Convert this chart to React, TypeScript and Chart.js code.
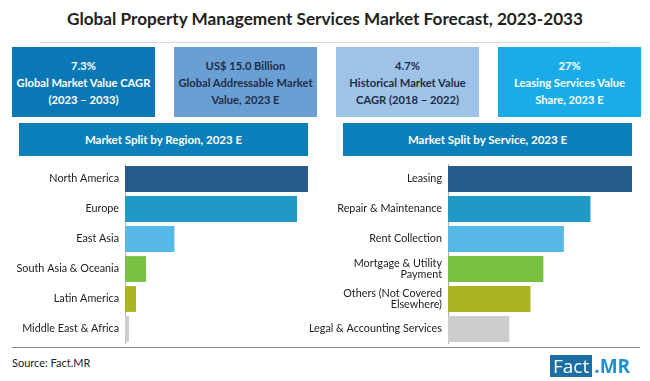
import React, { useEffect, useRef } from "react";
import { Chart, registerables } from "chart.js";

Chart.register(...registerables);

const regionLabels = ["North America", "Europe", "East Asia", "South Asia & Oceania", "Latin America", "Middle East & Africa"];
const regionValues = [100, 94, 27, 11.5, 6, 2.2];
const serviceLabels = ["Leasing", "Repair & Maintenance", "Rent Collection", ["Mortgage & Utility", "Payment"], ["Others (Not Covered", "Elsewhere)"], "Legal & Accounting Services"];
const serviceValues = [27, 20.9, 17, 14, 12.1, 9];
const barColors = ["#275b8c", "#2199c6", "#55b8e6", "#79c143", "#abb322", "#cdcdcd"];

const FONT = "Lato, 'Open Sans', sans-serif";

function BarChart(props: { labels: any[]; values: number[]; max: number; axisWidth: number; style: React.CSSProperties; width: number; height: number }) {
  const ref = useRef<HTMLCanvasElement | null>(null);
  useEffect(() => {
    if (!ref.current) return;
    const chart = new Chart(ref.current, {
      type: "bar",
      data: {
        labels: props.labels,
        datasets: [
          {
            data: props.values,
            backgroundColor: barColors,
            barPercentage: 0.86,
            categoryPercentage: 1,
          },
        ],
      },
      options: {
        indexAxis: "y",
        animation: false,
        responsive: false,
        maintainAspectRatio: false,
        layout: { padding: 0 },
        plugins: { legend: { display: false }, tooltip: { enabled: false } },
        scales: {
          x: { display: false, min: 0, max: props.max },
          y: {
            grid: { display: false, drawTicks: false },
            border: { display: true, color: "#b0b0b0", width: 1 },
            ticks: { color: "#222", font: { family: FONT, size: 10.8, lineHeight: 1.1 }, padding: 6, autoSkip: false },
            afterFit: (s: any) => {
              s.width = props.axisWidth;
              s.paddingTop = 0;
              s.paddingBottom = 0;
            },
          },
        },
      },
    });
    return () => chart.destroy();
  }, []);
  return <canvas ref={ref} width={props.width} height={props.height} style={{ position: "absolute", ...props.style }} />;
}

const boxBase: React.CSSProperties = {
  position: "absolute",
  top: 47,
  width: 143,
  height: 70,
  display: "flex",
  alignItems: "center",
  justifyContent: "center",
  textAlign: "center",
  fontFamily: FONT,
  fontWeight: 700,
  fontSize: 11.2,
  lineHeight: "17px",
};

export default function App() {
  return (
    <div style={{ position: "absolute", left: 0, top: 0, width: 650, height: 381, background: "#fff", overflow: "hidden", fontFamily: FONT }}>
      <div style={{ position: "absolute", left: 0, top: 8, width: 650, textAlign: "center", fontSize: 17.2, fontWeight: 700, color: "#222" }}>
        Global Property Management Services Market Forecast, 2023-2033
      </div>
      <div style={{ position: "absolute", left: 40, top: 42, width: 570, height: 1, background: "#d8d8d8" }} />
      <div style={{ ...boxBase, left: 12, background: "#0b78b6", color: "#fff" }}>
        <div>7.3%<br />Global Market Value CAGR<br />(2023 – 2033)</div>
      </div>
      <div style={{ ...boxBase, left: 174, background: "#6a9fd3", color: "#1e2d48" }}>
        <div>US$ 15.0 Billion<br />Global Addressable Market<br />Value, 2023 E</div>
      </div>
      <div style={{ ...boxBase, left: 336, background: "#9ec3e6", color: "#1e2d48" }}>
        <div>4.7%<br />Historical Market Value<br />CAGR (2018 – 2022)</div>
      </div>
      <div style={{ ...boxBase, left: 498, background: "#19ace6", color: "#fff" }}>
        <div>27%<br />Leasing Services Value<br />Share, 2023 E</div>
      </div>
      <div style={{ position: "absolute", left: 19, top: 123, width: 289, height: 33, background: "#0a7fba", color: "#fff", fontWeight: 700, fontSize: 11.5, display: "flex", alignItems: "center", justifyContent: "center" }}>
        Market Split by Region, 2023 E
      </div>
      <div style={{ position: "absolute", left: 343, top: 123, width: 289, height: 33, background: "#0a7fba", color: "#fff", fontWeight: 700, fontSize: 11.5, display: "flex", alignItems: "center", justifyContent: "center" }}>
        Market Split by Service, 2023 E
      </div>
      <BarChart labels={regionLabels} values={regionValues} max={100} axisWidth={125} width={308} height={180} style={{ left: 0, top: 164 }} />
      <BarChart labels={serviceLabels} values={serviceValues} max={27} axisWidth={143} width={327} height={180} style={{ left: 305, top: 164 }} />
      <div style={{ position: "absolute", left: 12, top: 347, width: 628, height: 1, background: "#888" }} />
      <div style={{ position: "absolute", left: 12, top: 356, fontSize: 11, color: "#222" }}>Source: Fact.MR</div>
      <div style={{ position: "absolute", left: 550, top: 355, height: 22, display: "flex", alignItems: "stretch", fontFamily: "'Open Sans', sans-serif", fontSize: 19, lineHeight: "22px" }}>
        <span style={{ background: "#1c6fa6", color: "#fff", padding: "0 3px" }}>Fact</span>
        <span style={{ color: "#1f8fd1", fontWeight: 700, paddingLeft: 2 }}>.MR</span>
      </div>
    </div>
  );
}
